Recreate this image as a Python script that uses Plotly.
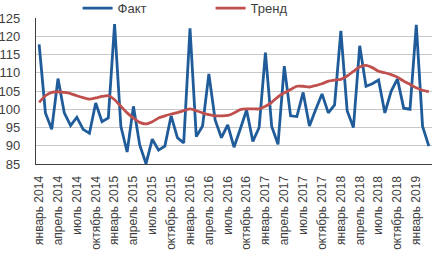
import plotly.graph_objects as go

month_names = ["январь", "февраль", "март", "апрель", "май", "июнь",
               "июль", "август", "сентябрь", "октябрь", "ноябрь", "декабрь"]
years = [2014, 2015, 2016, 2017, 2018, 2019]
categories = [f"{m} {y}" for y in years for m in month_names][:63]

fact = [117.8, 99.0, 94.5, 108.4, 99.0, 95.5, 97.8, 94.5, 93.4, 101.7, 96.6, 97.6,
        123.3, 95.3, 88.3, 100.8, 90.2, 85.1, 91.8, 88.8, 89.9, 98.2, 92.2, 90.8,
        122.2, 92.5, 95.4, 109.7, 97.1, 92.2, 95.7, 89.6, 94.6, 99.8, 91.2, 95.0,
        115.5, 95.3, 90.4, 111.8, 98.2, 98.0, 104.6, 95.4, 99.9, 104.2, 99.0, 101.2,
        121.5, 99.6, 95.0, 117.4, 106.3, 107.0, 108.0, 99.0, 104.9, 108.3, 100.3, 100.0,
        123.1, 95.3, 89.9]

trend = [101.9, 103.7, 104.6, 104.8, 104.6, 104.3, 103.7, 103.2, 102.8, 103.1, 103.5, 103.7,
         102.6, 100.8, 99.0, 97.6, 96.4, 96.0, 96.6, 97.6, 98.2, 98.7, 99.1, 99.6,
         100.1, 99.6, 99.0, 98.5, 98.2, 98.2, 98.3, 99.0, 99.9, 100.1, 100.1, 100.1,
         100.8, 101.9, 103.4, 104.5, 105.4, 106.3, 106.3, 106.1, 106.5, 107.0, 107.7, 108.0,
         108.2, 109.1, 110.4, 111.6, 112.0, 111.4, 110.4, 110.0, 109.5, 108.8, 107.7, 106.8,
         105.9, 105.2, 104.8]

tick_labels = categories[::3]
y_ticks = [85, 90, 95, 100, 105, 110, 115, 120, 125]

font_family = "Liberation Sans, Arial, sans-serif"

fig = go.Figure()
fig.add_trace(go.Scatter(x=categories, y=fact, mode="lines", name="Факт",
                         line=dict(color="#1f5c99", width=2.8)))
fig.add_trace(go.Scatter(x=categories, y=trend, mode="lines", name="Тренд",
                         line=dict(color="#c0504d", width=2.8, shape="spline", smoothing=0.6)))

fig.update_layout(
    width=432, height=258,
    margin=dict(l=36, r=0, t=18, b=94, autoexpand=False),
    paper_bgcolor="white", plot_bgcolor="white",
    font=dict(family=font_family, size=12, color="#404040"),
    showlegend=True,
    legend=dict(orientation="h", x=0.105, xanchor="left", y=1.17, yanchor="top",
                font=dict(size=13, color="#404040"), entrywidth=88,
                bgcolor="rgba(0,0,0,0)", borderwidth=0, tracegroupgap=0),
    xaxis=dict(type="category", tickmode="array", tickvals=tick_labels, ticktext=tick_labels,
               tickangle=-90, showgrid=False, showline=True, linecolor="#404040", linewidth=1.3,
               ticks="", tickfont=dict(size=12, color="#404040"), range=[-0.5, 62.5],
               ticklabelstandoff=6),
    yaxis=dict(range=[85, 125], tickvals=y_ticks, showgrid=True, gridcolor="#c8c8c8",
               gridwidth=1, showline=True, linecolor="#404040", linewidth=1.3,
               ticks="", ticklabelstandoff=12, tickfont=dict(size=13, color="#404040"),
               zeroline=False),
)

fig.write_html("out.html", config={"displayModeBar": False},
               post_script="document.body.style.margin='0';")
